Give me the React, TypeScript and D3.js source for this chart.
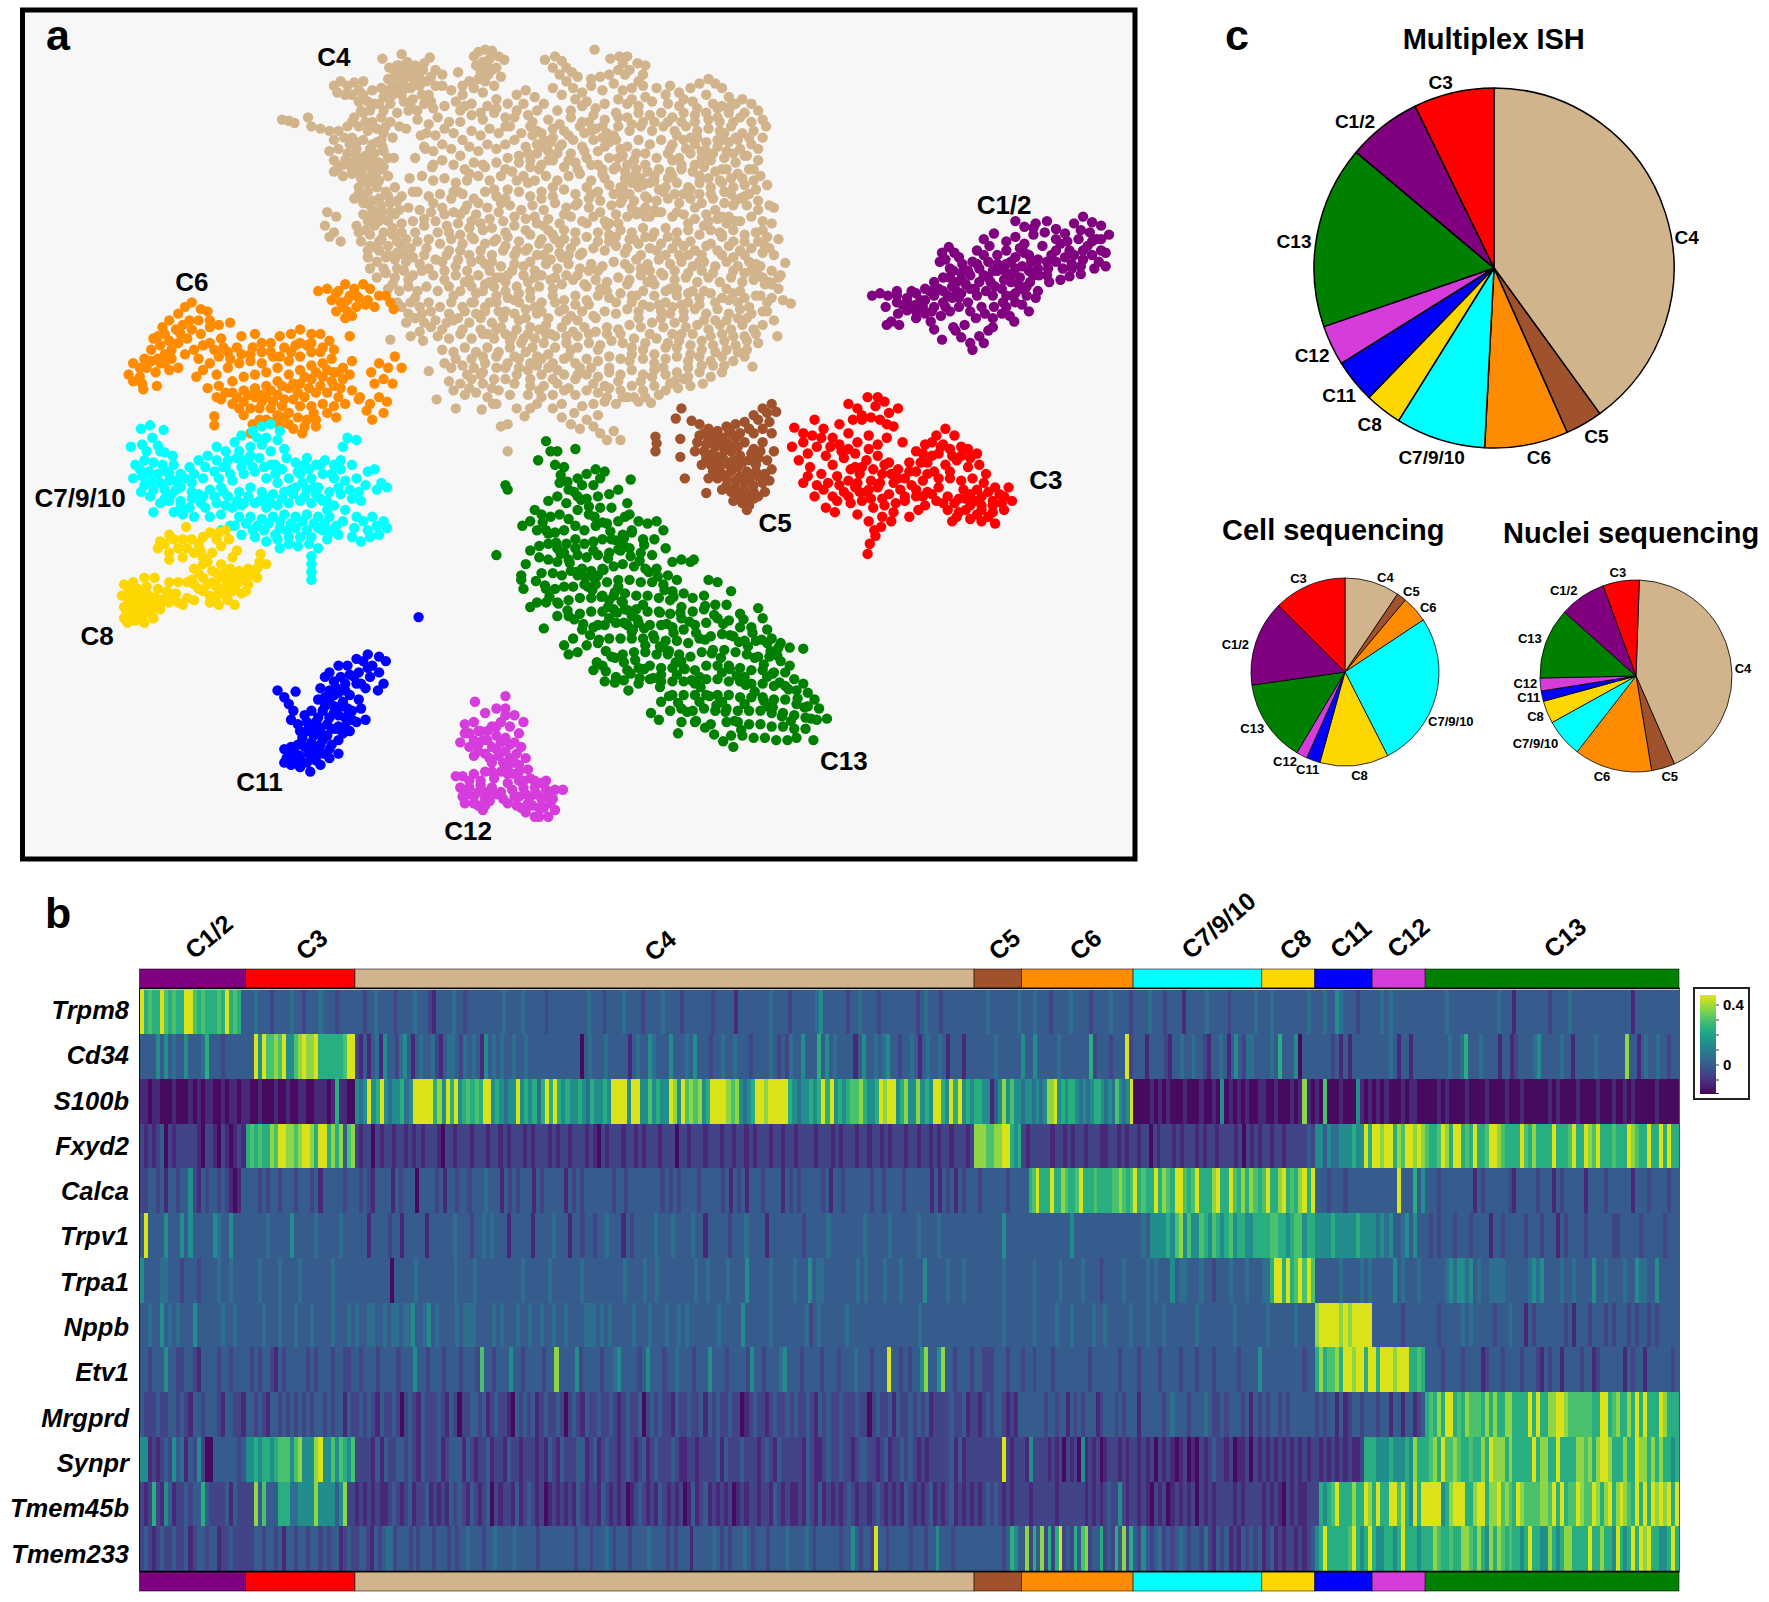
import React from "react";
import * as d3 from "d3";

const FONT = "'Liberation Sans', Arial, sans-serif";

const clusters = ["C1/2","C3","C4","C5","C6","C7/9/10","C8","C11","C12","C13"];
const clusterColors = ["#800080","#ff0000","#d2b48c","#a0522d","#ff8c00","#00ffff","#ffd700","#0000ff","#d63cdc","#008000"];
const cellCounts = [94,97,549,42,99,114,47,51,47,225];

const pieOrder = ["C4","C5","C6","C7/9/10","C8","C11","C12","C13","C1/2","C3"];
const ishShares = [144,12,27,29,12,14,13,59,24,26];
const cellShares = [34,6,16.4,96.6,42.5,8.5,6.8,51.2,53,45];
const nucleiShares = [154.4,14.2,47.2,23.2,13.7,6.3,7.8,42.9,28.3,22];

const genes = ["Trpm8","Cd34","S100b","Fxyd2","Calca","Trpv1","Trpa1","Nppb","Etv1","Mrgprd","Synpr","Tmem45b","Tmem233"];
const exprLevels = [-0.18,-0.12,-0.06,0,0.05,0.14,0.24,0.3,0.38,0.46];

// one string per gene, one space-separated run per cluster; each digit is an exprLevels index
const trpm8 = "96766976766997676667696763 334333233334332333433323333 3323343333233334333213333433233333333343333433333233333333334333233334333323333433332333333323333313333333343333233333345333333233433332333333333234333233333333 333433333334 3334333233334333323333433332 3333433323333133333433333233333343 3343333333343 33433543332333 3343433333333 3333343333333333334333133333333233334333333333333333133333333333";
const cd34 = "33335353433533346333233333 339597787955789889666666799 2131341533245313433421344324343153434334334333333333333303433343333313433543335333435333233433433323333432324335333635343333135334345332334313433431333133 333334333333 5335333334333333362333233392 333133332133433433213343135324433 3343633350333 33332313133333 3333431331333 333333433463334333313312333345333334331333334333333383313433433233";
const s100b = "11011000100010101100101101 100100010010011001110161100 545956954556459999968596956767699565455956564696965655654655659999599557565598597878569999878545699899999654556569695656778655698995685585659965969565 665513585755 4554545889565665454566545475459 0000101010001000100105010101001 1001000101810 10700010005101 0101000101100 0001010000100001000010001000000101000010000100010010100000100000";
const fxyd2 = "21212302122222102210210121 676766879988789986996868378 2122021221221212122210221222122212212122212122212122122212102122212212122212220221222122212212212122212212212222122212122212212212122212212212122122212 888778899656 212222212212122122211221212 212202122212122212122122221202121 2212212222232 55354455565596 9989968799898 7667986996769667998766669768666696667966987966676669876696696966";
const calca = "22332313323352132332321013 333232332333233323133333233 3232133331323330333323133233233343331323233313233333132323333333233233333333232323333233333231323133323333132323333323133233333323323333233333313132313233 323333332333 3367966696687667966676666778767 9676696876997679666896697686876 7966896768969 33323332333333 3333339333635 3332333333331323333332133333233313233333133332333333133323333233";
const trpv1 = "39333353335353333354335333 333334333335333334333334333 3331333323313333313333334333233434333133333133334333133233233433313233333433343333433133333233343333133333333233333433333333433333433333343333433333333 333333353333 333333333333353333333333333333 3343555565785755765765675665566 6677665677566 55556555556555 5454533453533 3232333233323333133233333233323331323333233333322333332333332333";
const trpa1 = "53333443332333233334334333 333433334333343333333433333 3333333330333334333333333433334333333333334333333433333334333333333343333433433333333343343333433335333334333334333534433333333434333343334333335333334333433 333333343333 333433333343333343333233333433 3334343335344333433233343334333 4469969679797 33333343333434 3333353433343 3333345455453433444433333345453333433433335334333343354433533333";
const nppb = "33433534343335333333433433 333343334333433343333433343 4334433434434453345343333434443333434333433433433433433334443434333334333433343343433333334333335333333433333333423433333343333333333333333343333333333333 333333343333 333433333433343333343343333334 3334333433333334333333334333333 3433333343333 89999989899999 3333333233333 3332333334343333323334333132333333323133323332323332323323233333";
const etv1 = "33233353322332133332332333 323233213233333232333233223 32333233332333533233323332333273323335332333323383333523333233453333235333233433323335333233332533233345333233332333233343332333933232335833583323332 332223332333 233233332333333333233333332333 3233332333323332333233333233335 3333333333233 68677869989969 9699989996676 3333233332333312333233332333213233133332331233333313233133333323";
const mrgprd = "32223223323213323332133221 332321332323232323323233132 2323213223202321322232132022332312322103232312322320232132232232123223023232213223223132322322012322123223232232132322322232202322313223232312222322312 212323321213 333333233233132323331233323233 3133333234333233343223233323132 3233232333333 23233131233233 3233133133123 6768699676877768686688666696966889987777776699678668696966698666";
const synpr = "55121232534132520033333323 556566567775785558955757657 2222131322332321322231233313212231221322122212132132223312312322123212312322232112212222313222322212321322222132112322322123322123122323212122222313122 222222292122 215222212120212051212012221212 2121202121012010212322120112021 2121212121212 21212121211266 6555655565866 6786977876676686988868666669688669666688786899866686698868686656";
const tmem45b = "21262153122323363222231322 228373336664455558555535822 1212121123212312231212132321321230212213123212012121213212213212120123212132121201312312121201212212213212112132131212123212212321212132121231212312121 212323212122 221222222122222221212123225212 2121021201212120212122221212222 1212102121122 26567966686698 6966997965969 9999568999668996889787698777788796967798779868968987696969898969";
const tmem233 = "23212322322312332331223222 223323323133233233232331232 23321323442333232333233323233433323343333433333233333333323332333432333233334333323233313333343232333432333233334333343233333323353233293323333323332335333233333 333333323653 382638262692326378233623263826 3253234232343233242132312132323 1231212212123 56966666796569 6556656966656 6687667668876865868767665696655865688666696686659656969896655696";
const heatRows = [trpm8,cd34,s100b,fxyd2,calca,trpv1,trpa1,nppb,etv1,mrgprd,synpr,tmem45b,tmem233];

// t-SNE embedding, flat x,y pairs per cluster
const c1Pts = [773,262,780,260,787,262,795,258,785,272,795,268,804,264,812,260,820,256,828,250,836,246,845,240,853,234,790,285,797,288,786,288,804,275,812,270,820,266,828,262,836,258,844,254,852,248,860,244,868,238,876,232,884,226,892,222,812,282,820,278,828,272,836,268,844,264,852,260,860,256,868,250,876,246,884,240,892,234,900,228,908,224,825,285,834,280,842,276,850,272,858,268,866,262,874,258,882,254,890,248,898,242,906,236,914,232,847,293,855,288,852,299,860,304,868,298,876,293,865,282,873,278,881,272,889,268,897,262,905,256,913,250,921,244,929,238,835,224,841,219,833,232,842,238,850,228,866,222,872,212,881,207,877,218,900,196,908,201,918,198,928,196,936,203,944,207,952,198,960,192,968,197,976,200,983,208,972,212,964,218,956,212,948,222,940,216,932,226,924,218,916,208,908,216,900,210,892,214,968,226,976,222,980,236,970,238,960,230,950,234,942,238,930,250,920,258,910,262,900,268,892,272,903,252,895,280,845,290,880,290,899,285,912,276,828,292,835,301,862,310,872,304,920,230,936,232,958,243,948,245,
800,270,808,258,816,266,824,258,832,256,840,262,848,258,856,252,864,256,872,244,880,262,888,256,896,250,904,246,912,240,920,238,928,232,936,222,944,228,952,226,960,222,968,214,976,212,980,224,912,226,904,220,896,232,888,236,880,240,872,226,862,232,852,242,842,246,830,256,818,272,806,270,796,278,812,276,826,276,838,272,850,264,860,276,870,272,880,282,888,278,900,260,910,254,918,264,906,270,916,244,928,244,940,248,950,238,958,236,966,206,958,204,946,214,936,212,926,206,916,202,974,232,795,262,838,230,846,224,848,250,858,240,866,234,878,250,892,262,900,238,892,242,884,234];

const c3Pts = [752,358,760,362,769,352,776,360,784,356,772,370,780,372,788,366,796,362,764,372,704,379,722,372,730,380,738,388,744,376,752,384,760,392,770,386,778,394,786,388,702,396,712,392,716,402,724,396,732,404,708,408,718,414,728,420,738,412,748,406,758,402,768,408,778,404,788,410,796,416,806,410,812,400,820,394,830,386,838,380,846,386,852,396,842,398,832,402,822,410,812,418,802,424,792,428,782,420,772,426,762,420,752,426,742,422,730,434,738,440,748,436,758,432,768,436,778,432,788,438,798,434,808,430,818,426,828,418,838,412,848,408,858,414,868,412,858,398,866,402,722,440,712,428,740,454,754,446,764,444,774,450,784,448,794,446,760,456,770,462,782,458,790,462,802,444,812,440,822,436,832,432,842,424,852,426,862,424,872,428,882,432,890,440,897,444,880,444,870,440,860,438,850,442,840,440,830,444,820,448,840,452,850,454,860,448,870,452,880,454,890,452,860,460,870,462,882,464,844,462,781,467,776,475,771,482,769,491,775,470,732,450,814,452,806,458,
712,384,720,386,728,388,736,396,744,394,752,398,716,422,724,430,734,428,744,430,754,416,764,414,774,416,784,412,796,424,806,418,816,410,826,404,836,394,844,404,852,404,860,406,842,418,832,424,822,420,812,434,802,440,792,454,782,442,772,442,762,436,752,440,742,444,874,420,866,434,876,436,886,438,894,432,854,434,846,446,836,446,826,438,818,440,876,458,866,456,856,452,848,458,764,368,756,372,778,352,786,376,792,378,800,392,770,398,758,414,746,400,826,392,834,396,818,402,790,420,780,428,770,434,760,428,870,448,880,448,888,446,856,442,864,444];

const c4Pts = [339,52,345,60,356,48,361,55,352,58,368,58,375,62,381,51,372,70,358,64,350,66,364,68,378,72,386,62,392,66,406,64,420,50,424,46,430,44,436,45,442,50,447,53,422,58,428,55,434,52,440,60,426,64,433,66,444,68,483,53,492,50,498,54,502,60,490,60,496,66,507,64,512,68,527,44,541,52,549,50,556,50,552,56,558,62,565,56,572,58,570,66,566,72,548,62,540,66,532,68,524,70,
296,76,302,72,308,76,299,82,306,84,314,73,322,72,330,80,326,90,318,90,332,92,340,86,348,76,356,74,364,78,372,76,380,84,366,88,376,92,384,96,358,90,346,92,340,98,352,100,400,80,410,84,420,78,428,82,418,92,432,94,408,98,394,94,440,88,450,92,458,84,466,80,474,86,482,92,490,78,498,84,508,78,516,82,524,76,534,80,544,74,552,80,560,78,548,88,556,92,536,92,528,96,516,94,506,98,494,98,570,76,582,78,594,76,590,84,602,82,612,78,620,74,628,70,634,74,640,78,626,84,614,90,602,94,592,92,578,90,566,94,646,86,652,92,658,88,666,92,672,98,640,94,632,92,
250,106,256,107,261,109,273,104,276,112,284,114,292,116,300,116,305,122,296,124,308,112,314,104,322,100,330,108,338,104,326,116,318,112,346,108,354,112,340,118,370,106,380,110,388,104,398,108,408,108,418,102,428,106,438,100,448,104,458,98,468,102,476,98,486,106,496,110,506,104,516,108,526,102,536,106,546,100,556,104,566,100,576,102,586,100,596,104,606,100,616,102,626,100,636,104,646,100,656,104,666,108,676,106,679,112,
312,122,322,124,330,128,338,124,300,132,308,136,316,132,324,138,332,136,340,134,292,134,296,142,304,146,312,144,320,146,328,148,336,144,344,140,378,118,386,120,394,114,402,118,410,124,418,116,426,120,434,114,442,118,452,112,462,118,470,112,480,118,490,122,500,116,508,124,518,118,528,114,538,118,548,112,558,116,568,112,578,116,588,112,598,116,608,112,618,116,628,114,638,116,648,112,658,118,668,116,676,122,
376,130,384,134,392,128,400,132,408,138,416,130,424,134,432,128,440,132,448,128,456,124,466,130,476,128,486,134,496,130,506,136,516,130,526,124,536,130,546,124,556,130,566,124,576,128,586,124,596,128,606,124,616,128,626,126,636,130,646,126,656,132,666,128,
384,146,392,142,402,146,412,150,420,144,430,148,440,144,450,140,460,138,470,142,480,146,490,142,500,148,510,144,520,140,530,146,540,140,552,138,562,142,572,136,582,140,592,136,602,140,612,136,622,140,632,136,642,140,652,144,662,138,672,142,
296,152,304,156,312,154,320,158,328,156,336,160,344,156,318,166,326,170,334,166,342,170,350,166,314,176,322,180,330,178,338,182,346,180,322,190,330,192,338,190,346,188,354,186,
374,156,384,160,394,158,404,162,414,160,424,156,434,160,444,156,454,152,464,156,474,160,484,156,494,160,504,156,514,154,524,160,534,154,544,150,554,152,564,150,574,152,584,150,594,152,604,150,614,152,624,148,634,152,644,150,654,154,664,150,674,156,
370,170,380,174,390,172,400,176,410,172,420,176,430,170,440,174,450,168,460,170,470,174,480,170,490,174,500,168,510,172,520,166,530,170,540,164,550,166,560,162,570,164,580,160,590,166,600,162,610,166,620,162,630,166,640,162,650,166,660,164,670,168,680,164,
290,188,298,192,288,200,296,206,302,214,292,210,362,184,372,186,382,188,392,184,402,188,412,186,422,190,432,184,442,188,452,182,462,186,472,182,482,186,492,180,502,184,512,180,522,184,532,178,542,182,552,176,562,178,572,174,582,178,592,176,602,180,612,176,622,180,632,176,642,180,652,178,662,182,672,178,682,182,686,184,
316,200,324,204,332,200,340,206,348,202,356,198,366,196,376,200,386,196,396,200,406,198,416,202,426,198,436,202,446,196,456,200,466,194,476,198,486,194,496,198,506,192,516,196,526,192,536,196,546,190,556,192,566,188,576,192,586,188,596,192,606,190,616,194,626,190,636,194,646,192,656,196,666,192,676,196,684,198,
320,214,328,218,336,214,344,218,352,214,360,212,370,214,380,212,390,216,400,212,410,216,420,212,430,216,440,212,450,210,460,214,470,208,480,212,490,208,500,212,510,206,520,210,530,206,540,208,550,204,560,206,570,202,580,206,590,202,600,206,610,204,620,208,630,204,640,208,650,204,660,208,670,206,680,210,690,212,
326,228,334,232,342,228,350,230,358,226,366,228,376,226,386,230,396,226,406,230,416,226,426,230,436,226,446,222,456,226,466,222,476,226,486,220,496,224,506,220,516,224,526,220,536,222,546,218,556,220,566,216,576,220,586,216,596,220,606,218,616,222,626,218,636,222,646,218,656,222,666,220,676,224,686,226,696,233,
334,246,342,242,350,246,358,240,366,244,374,240,384,244,394,240,404,244,414,240,424,244,434,240,444,236,454,240,464,236,474,240,484,234,494,238,504,234,514,238,524,234,534,236,544,232,554,234,564,230,574,234,584,230,594,234,604,232,614,236,624,232,634,236,644,232,654,236,664,232,674,236,684,240,692,244,
354,258,362,254,370,258,378,254,388,258,398,254,408,258,418,254,428,258,438,254,448,250,458,254,468,250,478,254,488,248,498,252,508,248,518,252,528,248,538,250,548,246,558,248,568,244,578,248,588,244,598,248,608,246,618,250,628,246,638,250,648,246,658,250,668,248,678,252,690,256,701,269,694,266,684,264,
356,272,364,268,372,272,380,268,390,272,400,268,410,272,420,268,430,272,440,268,450,264,460,268,470,264,480,268,490,262,500,266,510,262,520,266,530,262,540,264,550,260,560,262,570,258,580,262,590,258,600,262,610,260,620,264,630,260,640,264,650,260,660,264,670,262,680,268,
360,286,368,282,376,286,386,284,396,286,406,282,416,286,426,282,436,286,446,282,456,278,466,282,476,278,486,282,496,276,506,280,516,276,526,280,536,276,546,278,556,274,566,276,576,272,586,276,596,272,606,276,616,274,626,278,636,274,646,278,656,274,666,278,676,276,686,284,689,298,
346,301,364,298,375,302,388,298,398,300,408,296,418,300,428,296,438,300,448,296,458,292,468,296,478,292,488,296,498,290,508,294,518,290,528,294,538,290,548,292,558,288,568,290,578,286,588,290,598,286,608,290,618,288,628,292,638,288,648,292,658,288,668,292,676,288,
402,312,412,308,422,312,432,308,442,312,452,308,462,304,472,308,482,304,492,308,502,304,512,308,522,304,532,306,542,302,552,304,562,300,572,304,582,300,592,304,602,302,612,306,622,302,632,306,642,302,652,306,662,302,672,304,
380,329,400,326,410,324,420,326,430,322,440,326,450,322,460,318,470,322,480,318,490,322,500,318,510,322,520,318,530,320,540,316,550,318,560,314,570,318,580,314,590,318,600,316,610,320,620,316,630,320,640,316,650,320,660,316,667,325,
398,338,408,340,418,336,428,340,438,336,448,336,458,332,470,336,480,332,490,336,500,332,510,336,520,332,530,334,540,330,550,332,560,328,570,332,580,328,590,332,600,330,610,334,620,330,630,334,640,330,
412,350,422,348,432,352,442,346,452,350,468,350,478,346,490,350,500,346,510,350,520,346,530,348,540,344,550,346,560,342,570,346,580,342,590,346,601,344,612,342,623,340,
387,354,404,362,427,363,437,358,465,369,458,362,470,362,476,358,444,378,450,376,490,362,498,358,509,366,516,360,526,358,536,356,546,358,556,352,566,356,577,357,
498,370,506,376,514,380,520,372,526,378,532,384,538,390,544,382,550,390,530,368,450,400,
352,68,360,78,368,70,344,80,362,98,348,84,386,76,432,58,436,62,430,72,438,76,502,72,510,88,520,90,554,66,560,88,572,86,606,88,618,96,
312,150,320,152,328,160,334,152,340,148,322,176,330,186,336,196,326,196,344,196,352,178,
470,148,476,136,482,124,490,114,498,128,504,142,512,150,518,134,524,146,530,134,540,126,548,140,556,146,564,136,572,146,580,156,588,170,596,142,566,166,574,176,558,172,550,180,564,190,572,184,580,186,
612,122,622,134,630,142,640,150,620,156,630,172,642,170,650,182,640,192,624,200,610,198,600,188,
448,176,456,192,466,204,474,192,482,200,492,212,500,204,510,214,498,228,488,230,478,216,468,220,458,222,448,206,438,214,428,204,418,196,408,208,398,222,388,206,378,220,368,206,
430,252,440,246,450,244,460,260,470,258,480,244,490,256,500,274,510,270,480,276,470,290,460,284,448,276,
560,268,570,270,580,252,590,268,600,256,610,268,620,270,566,282,576,296,586,282,596,296,606,282,
630,298,640,296,650,298,660,298,644,310,654,312,634,312,622,310,612,314,600,308,
456,316,466,312,476,324,486,314,494,328,504,316,514,326,470,342,482,342,494,340,504,344,414,332,426,332,436,344,
380,238,394,248,404,236,416,248,430,234,448,218,470,232,398,278,410,292,426,292,440,292,452,302,
356,206,364,220,352,224,336,222,328,238,340,238,348,252,362,248,368,264,372,294,382,276,392,310,
520,254,530,240,538,258,546,268,556,252,528,282,538,296,550,296,560,308,570,310,580,322,590,308,
640,210,650,214,660,226,672,214,682,220,650,240,660,242,672,244,682,250,644,256,654,268,664,272,674,262,662,282,
520,198,530,214,540,214,548,198,558,212,568,226,578,210,590,226,600,214,612,214,622,226,632,242,622,240,610,242,598,240,
342,112,348,122,339,130,360,114,349,140,363,158,356,174,366,170,373,120,377,132,383,148,368,140,
354,58,362,62,370,64,376,56,382,68,358,70,366,76,374,84,382,90,352,78,344,70,338,78,356,84,364,94,370,98,
318,80,312,84,322,84,336,92,328,98,320,98,312,108,324,108,334,114,316,126,310,128,328,132,334,126,322,142,330,142,338,150,316,138,306,142,300,148,
326,162,318,172,336,176,344,174,328,182,338,186,350,190,318,206,328,208,338,212,348,208,356,218,344,226,334,220,326,222,
424,70,416,72,410,76,392,76,404,90,412,94,426,100,440,96,448,112,456,104,464,92,472,108,
472,120,480,130,488,126,494,136,486,142,478,150,468,136,460,144,476,116,504,120,514,112,524,116,534,122,544,120,550,132,
546,148,554,158,562,156,568,158,576,162,584,168,592,158,598,172,582,188,572,192,560,184,552,166,544,172,536,158,
608,132,618,122,626,134,636,124,644,134,652,122,660,138,668,150,658,158,648,158,638,160,628,158,616,146,604,146,594,132,
406,170,414,182,424,180,434,194,444,180,394,190,384,180,376,194,398,206,408,190,418,210,
408,222,418,232,426,222,436,232,444,246,434,250,422,260,412,250,402,262,392,232,418,268,430,276,440,262,
486,204,496,216,504,226,514,226,522,240,512,244,502,244,492,246,482,226,474,246,464,244,456,234,
564,262,574,250,584,270,594,278,604,296,614,296,624,284,634,284,644,284,654,282,662,310,670,296,680,276,
454,298,464,300,474,300,484,296,492,298,502,298,506,310,476,316,486,326,460,326,448,326,440,316,428,316,418,318,
512,298,522,296,530,310,540,326,548,338,558,320,568,338,578,334,588,326,598,338,610,326,622,324,632,324,642,324,
538,200,546,210,554,224,562,212,572,210,582,222,592,210,602,226,610,226,620,232,630,216,640,226,650,228,660,214,
402,284,412,276,422,278,432,296,442,276,392,292,382,290,374,278,362,278,352,268,344,256,352,238,360,232,372,234,
522,176,532,188,540,198,550,172,534,150,524,172,510,182,500,190,490,166,480,176,468,162,458,160,448,150,438,168,428,146,416,154,402,170,
600,120,596,156,606,172,616,184,628,196,638,206,648,172,656,176,664,172,672,186,676,204,670,234,678,218,
690,246,684,252,676,246,666,240,656,258,646,266,634,268,624,258,614,258,604,270,594,256,586,242,576,240,568,238,558,238,
532,256,522,270,512,284,502,284,492,268,484,288,474,272,466,274,456,266,448,258,444,290,434,268,
512,332,524,326,536,342,526,340,552,352,562,352,572,352,584,350,594,340,538,352,606,336,
402,346,416,344,428,330,404,318,394,322,468,328,480,352,456,340,440,358,
636,96,648,94,660,100,650,108,638,108,628,106,616,108,604,108,592,108,580,108,570,108,560,110,548,104,534,112,522,108,
642,118,654,124,664,122,672,132,650,136,640,124,668,160,660,174,652,196,644,198,634,186,620,172,612,168];

const c5Pts = [599,371,604,362,581,387,582,393,581,400,603,389,603,405,607,424,626,437,662,452,613,373,620,376,628,380,636,382,644,378,652,376,660,374,668,368,676,362,684,358,688,365,682,374,676,380,668,384,684,384,676,392,668,398,660,392,652,388,644,392,636,392,628,390,620,386,616,400,624,400,632,402,640,404,648,400,656,404,664,408,672,406,680,408,686,400,622,412,630,412,638,414,646,412,654,414,662,418,670,418,678,420,684,416,628,424,636,424,644,424,652,426,660,428,668,430,676,428,682,426,640,434,648,436,656,438,664,440,672,440,678,436,650,444,658,446,664,448,668,442,618,392,646,382,670,412,654,396,
624,384,632,386,640,388,648,384,656,384,664,380,672,372,680,366,626,394,634,396,642,398,650,396,626,406,634,408,642,408,650,408,658,410,666,402,674,400,632,418,640,420,648,418,656,422,664,424,672,422,644,430,652,432,660,434,668,436,654,440,662,444];

const c6Pts = [282,258,290,256,298,260,306,252,314,256,322,252,328,256,336,262,342,262,294,266,302,268,310,262,318,264,326,266,308,276,316,272,324,270,332,272,298,276,306,282,346,268,349,274,
114,332,118,322,124,326,118,338,126,340,128,318,134,310,140,318,146,322,138,330,127,345,139,342,150,328,158,326,136,300,146,296,142,306,152,310,158,304,166,300,150,284,158,278,164,272,170,268,178,274,144,290,156,292,168,284,176,284,186,290,194,288,184,276,196,300,172,310,176,318,164,314,186,304,204,286,180,328,174,334,
186,322,194,316,202,312,210,308,214,298,226,296,224,308,232,312,240,304,248,298,258,296,266,292,276,296,284,296,272,306,262,306,252,308,242,316,232,322,222,320,212,322,202,326,192,332,206,338,216,334,226,332,236,330,246,326,256,320,266,316,276,312,286,308,294,318,296,330,286,322,276,324,266,328,256,332,246,338,236,342,226,344,216,346,206,348,194,342,184,344,196,354,206,358,216,356,226,352,236,352,246,350,256,344,266,340,276,336,286,334,296,342,304,336,310,332,312,320,300,352,290,348,280,348,270,352,260,354,250,360,240,362,230,362,216,368,224,376,236,372,246,368,256,366,266,360,276,360,286,358,296,360,272,372,280,378,270,378,256,376,
190,369,190,377,310,298,312,346,318,354,329,330,336,322,344,326,350,316,356,326,340,336,332,340,348,340,319,352,328,358,336,352,343,356,340,366,330,372,325,364,246,372,260,380,222,384,
300,258,308,266,316,262,304,272,312,280,124,334,130,326,142,322,134,320,152,318,146,314,140,298,150,302,160,296,170,292,178,296,186,284,162,288,180,306,190,310,198,308,204,318,214,314,222,314,232,304,240,312,248,316,258,312,266,304,276,304,284,312,292,302,300,330,290,328,280,330,270,334,260,340,250,342,240,346,232,350,220,350,210,352,200,348,192,352,212,362,222,362,232,356,242,356,252,354,264,348,274,344,284,342,294,338,302,344,306,358,298,370,290,366,278,366,264,370,252,370,240,374,230,372,268,384,280,372,248,378,304,326,296,310];

const c7Pts = [125,380,133,377,145,381,135,388,140,395,146,401,153,404,116,396,126,394,120,412,128,408,136,410,144,412,154,412,160,420,168,414,176,408,184,404,192,396,200,400,208,392,214,386,224,382,232,378,240,376,248,382,222,396,232,394,240,400,252,398,
118,424,126,422,134,426,142,428,150,426,160,432,170,428,180,424,190,418,200,414,210,406,220,408,230,406,240,412,250,416,262,410,272,406,280,412,288,408,296,412,304,396,308,388,316,390,302,408,312,412,
125,436,133,440,142,446,150,444,160,444,168,450,176,438,186,434,196,432,206,426,216,420,226,418,236,424,246,428,256,424,266,420,276,424,286,420,296,424,306,426,316,424,326,418,332,416,338,428,343,432,334,434,324,430,
136,454,146,442,154,454,162,456,172,458,182,450,192,446,202,440,212,436,222,432,232,436,242,438,252,436,262,432,272,434,282,432,292,436,302,438,312,442,320,444,186,458,196,456,206,450,216,446,226,446,236,450,246,448,256,446,266,444,276,446,286,444,296,448,306,452,316,458,
196,470,204,466,212,458,222,458,232,460,242,458,252,456,262,458,272,456,282,458,292,458,304,462,314,468,322,462,330,458,
214,474,224,470,234,470,244,474,254,470,262,468,272,470,282,468,292,472,300,474,
248,486,256,482,264,484,274,482,282,486,290,478,294,470,
312,476,320,480,328,476,336,474,343,468,340,462,276,493,276,500,276,507,276,514,
170,442,180,440,202,408,194,424,214,448,244,412,270,412,284,442,248,462,236,442,216,408,290,452,198,436,156,434,
130,400,124,416,132,418,140,420,148,418,156,426,128,430,136,434,146,434,152,438,142,400,150,420,164,424,172,420,182,414,192,408,204,420,214,414,224,414,234,414,244,420,254,406,264,418,274,416,284,412,294,420,302,416,160,450,170,436,178,446,190,440,200,448,210,444,220,440,230,444,240,446,250,442,260,438,270,440,280,438,290,444,300,432,310,434,318,436,208,466,218,464,228,466,238,464,248,468,258,464,268,462,278,464,288,464,298,466,226,476,236,480,246,478,256,476,266,476,276,476,286,470,198,414,212,400,222,404,236,388,228,388,246,390,258,434,268,428,278,432,326,470,334,466];

const c8Pts = [165,467,150,474,142,480,140,486,150,490,158,486,162,478,170,478,176,482,180,476,186,472,194,472,200,470,203,478,196,484,188,490,180,494,172,490,162,494,150,496,210,488,206,494,231,491,236,500,228,504,222,510,230,498,
172,504,180,500,188,506,196,500,204,504,212,506,220,504,170,514,180,512,188,516,196,512,204,514,212,516,220,518,228,512,196,524,206,524,214,526,180,524,172,532,166,530,186,534,194,536,202,532,208,536,186,528,
110,518,118,516,128,512,137,512,150,516,158,516,166,516,172,518,
108,528,116,526,124,526,132,528,140,522,148,524,156,526,162,536,
110,538,118,536,126,536,134,534,142,532,150,534,158,534,
110,548,118,544,126,546,134,544,142,540,113,552,128,552,136,548,
146,482,154,478,166,486,178,488,192,478,184,498,176,508,192,508,200,508,208,510,216,510,224,508,200,520,208,520,218,524,192,520,184,518,176,522,192,528,200,528,114,522,122,522,130,520,138,530,146,530,154,530,114,532,122,532,130,532,118,540,126,542,134,540,142,536,120,550,112,544];

const c11Pts = [371,547,336,582,326,580,342,586,330,590,322,586,316,584,308,590,336,596,328,600,318,596,310,598,300,590,292,596,340,606,324,610,316,606,306,606,296,604,288,600,335,612,246,612,252,618,256,624,260,630,258,638,262,613,318,620,310,616,300,614,292,612,284,610,282,620,292,622,302,626,312,630,320,628,324,638,316,640,306,636,296,632,286,630,276,630,310,648,300,644,290,642,280,640,272,640,264,642,300,656,290,652,280,650,272,648,264,660,292,664,284,660,276,658,268,654,252,664,258,668,266,670,274,668,282,666,258,678,266,680,275,684,284,678,292,672,300,668,252,676,262,674,272,676,278,672,298,646,
296,616,304,622,296,626,288,618,308,628,300,634,292,636,282,636,274,646,284,648,294,646,304,650,286,656,278,652,270,662,278,662,286,668,294,660,262,668,254,672,268,676,280,674,258,662,306,612,314,600,302,600,320,606,326,592,298,610,288,626,270,634,312,638,306,644,266,648,282,644,276,668];

const c12Pts = [421,622,448,617,412,642,420,640,430,632,440,628,448,628,456,634,464,640,416,650,426,648,436,644,444,640,452,644,460,650,408,658,416,662,424,660,432,656,440,652,448,654,456,658,420,670,430,668,440,664,448,666,458,668,436,676,446,676,456,676,466,672,450,686,460,684,468,682,410,688,404,688,420,686,430,684,438,690,450,694,460,692,470,690,480,694,408,698,416,698,426,696,436,698,444,702,454,700,464,698,474,698,484,700,492,700,499,700,410,706,420,706,430,708,440,704,460,706,470,706,480,708,490,708,412,712,424,714,434,710,450,712,458,714,468,712,478,716,488,712,428,718,466,720,474,724,486,724,492,718,
424,648,432,648,440,644,448,634,452,660,444,658,436,662,428,656,420,656,412,650,424,666,434,672,442,670,452,672,462,662,450,680,460,678,444,684,416,692,426,692,432,702,424,702,414,704,420,712,430,714,446,708,456,706,466,704,476,704,486,706,464,692,474,692,484,692,472,714,482,716,462,716,478,724,455,686,436,684];

const c13Pts = [484,391,488,400,477,408,494,400,510,398,536,418,528,416,520,420,512,424,500,414,496,428,504,434,516,430,526,430,532,424,559,425,448,430,450,434,486,444,494,440,502,446,512,440,520,442,530,440,540,438,548,434,556,446,480,456,488,458,496,456,504,460,512,452,522,456,532,450,542,450,554,458,463,466,470,462,476,470,484,470,492,472,500,470,510,466,518,470,528,466,538,464,548,462,558,456,566,462,574,464,582,462,588,470,478,484,486,482,494,486,502,482,510,478,518,482,526,480,534,478,542,478,552,474,560,472,570,478,580,478,590,486,440,492,470,488,462,510,466,500,478,494,486,496,494,498,504,496,512,492,520,494,530,492,540,490,550,488,558,486,568,490,578,492,596,498,604,496,612,498,615,496,
462,514,464,522,480,508,490,508,498,510,506,506,516,504,524,506,534,504,544,502,552,500,562,502,572,504,582,504,592,510,600,514,484,522,492,522,500,520,508,520,518,518,528,518,538,516,548,514,558,514,568,516,578,516,588,518,596,524,606,526,
470,538,476,534,484,534,494,534,504,532,514,530,524,530,534,528,544,528,554,526,564,528,574,528,584,530,594,532,604,538,614,530,624,528,628,514,636,516,648,524,
482,557,494,546,504,546,514,544,524,542,534,542,544,540,554,540,564,540,574,542,584,542,594,544,604,548,614,542,624,540,634,536,644,536,656,544,672,539,676,548,
500,572,508,566,516,558,526,556,536,554,546,552,556,554,566,552,576,554,586,554,596,556,606,558,616,554,626,552,636,548,646,550,656,556,666,556,680,558,684,566,692,570,
504,580,512,578,520,572,530,570,540,566,550,566,560,566,570,566,580,566,590,568,600,568,610,570,620,566,630,564,640,562,650,564,660,568,670,568,680,570,690,574,700,574,712,575,
526,594,534,590,542,582,552,580,562,578,572,578,582,580,592,580,602,580,612,582,622,578,632,576,642,576,652,578,662,580,672,582,682,582,692,586,700,590,
536,604,546,600,556,594,566,592,576,590,586,592,596,592,606,592,616,594,626,590,636,590,646,590,656,592,666,594,676,594,686,596,696,596,704,602,712,606,
557,612,566,606,576,602,586,604,596,604,606,604,616,606,626,602,636,602,646,604,656,604,666,606,676,606,686,608,696,608,706,612,716,614,722,620,
577,632,586,622,596,616,606,616,616,616,626,616,636,616,646,616,656,618,666,618,676,618,686,620,696,620,706,624,716,626,726,628,733,637,
584,638,594,630,604,628,614,630,624,628,634,630,644,628,654,630,664,630,674,630,684,632,694,632,704,634,714,636,724,638,
601,650,604,640,616,640,630,642,644,640,654,640,664,642,674,642,684,644,694,644,704,646,714,646,721,656,
648,652,650,662,658,652,668,654,678,654,688,656,698,656,706,654,
500,490,510,486,526,488,512,510,530,510,548,520,540,532,552,534,560,546,570,536,530,554,540,548,560,560,572,572,588,574,604,586,586,598,600,598,620,600,640,596,660,600,680,600,620,622,640,622,660,624,680,626,
492,412,497,421,503,427,509,436,515,443,522,449,527,458,534,463,541,471,546,479,553,484,559,493,
474,452,481,463,486,473,493,481,497,491,505,499,511,507,519,512,525,523,533,529,539,538,547,543,553,552,561,558,
475,515,483,519,487,529,495,535,503,541,509,549,517,553,523,563,531,567,537,577,545,583,553,587,559,597,567,601,
560,470,553,477,548,487,539,495,535,505,527,513,521,520,
571,483,567,497,575,507,583,511,589,523,597,529,603,543,611,551,617,561,625,567,631,579,639,583,647,593,653,599,661,607,669,613,677,621,685,627,693,635,701,639,
545,525,551,533,557,541,565,549,571,557,579,563,585,573,593,577,599,587,607,593,613,603,621,609,629,617,635,625,643,631,651,639,657,647,
625,537,633,545,641,553,647,563,655,569,663,573,669,583,677,589,685,597,691,605,699,611,707,619,713,627,719,637,
659,549,667,561,675,567,683,577,689,581,
563,585,571,593,579,601,585,609,593,617,601,623,609,631,617,639,625,645,633,651,641,657,
529,587,537,595,545,605,553,603,
585,543,591,553,597,561];

const clusterPoints = [c1Pts,c3Pts,c4Pts,c5Pts,c6Pts,c7Pts,c8Pts,c11Pts,c12Pts,c13Pts];

// picture-space helper: source px of the shrunken reference to page px
const px = d3.scaleLinear().domain([0,1568]).range([0,1769]);
const py = d3.scaleLinear().domain([0,1420]).range([0,1602]);

const scatterLabels: [string,number,number][] = [["C4",296,50],["C1/2",890,181],["C6",170,250],["C7/9/10",71,441],["C8",86,563],["C11",230,693],["C12",415,736],["C13",748,674],["C5",687,463],["C3",927,425]];
const topLabels: [string,number,number][] = [["C1/2",185,830],["C3",276,837],["C4",585,838],["C5",890,837],["C6",962,837],["C7/9/10",1080,820],["C8",1148,837],["C11",1197,832],["C12",1248,831],["C13",1387,831]];

const ishLabels: [string,number,number][] = [["C4",1495,210],["C5",1415,387],["C6",1364,405],["C7/9/10",1269,405],["C8",1214,376],["C11",1187,350],["C12",1163,315],["C13",1147,214],["C1/2",1201,107],["C3",1277,73]];
const cellLabels: [string,number,number][] = [["C4",1228,512],["C5",1251,524],["C6",1266,538],["C7/9/10",1286,639],["C8",1205,687],["C11",1159,682],["C12",1139,675],["C13",1110,646],["C1/2",1095,571],["C3",1151,513]];
const nucleiLabels: [string,number,number][] = [["C4",1545,592],["C5",1480,688],["C6",1420,688],["C7/9/10",1361,659],["C8",1361,635],["C11",1355,618],["C12",1352,606],["C13",1356,566],["C1/2",1386,523],["C3",1434,507]];

function Pie({shares,cx,cy,r,start,sw,labels,fs}:{shares:number[];cx:number;cy:number;r:number;start:number;sw:number;labels:[string,number,number][];fs:number}){
  const rad = (d:number)=>d*Math.PI/180;
  const arcs = d3.pie<number>().sort(null).startAngle(rad(start)).endAngle(rad(start+360))(shares);
  const arc = d3.arc<d3.PieArcDatum<number>>().innerRadius(0).outerRadius(r);
  return <g>
    <g transform={`translate(${cx},${cy})`}>
      {arcs.map((a,i)=><path key={i} d={arc(a)!} fill={clusterColors[clusters.indexOf(pieOrder[i])]} stroke="#000" strokeWidth={sw} strokeLinejoin="round"/>)}
    </g>
    {labels.map(([t,x,y])=><text key={t} x={px(x)} y={py(y)} dy="0.36em" textAnchor="middle" fontSize={fs} fontWeight="bold" fontFamily={FONT}>{t}</text>)}
  </g>;
}

export default function App(){
  const hmX = d3.scaleLinear().domain([0,d3.sum(cellCounts)]).range([139.5,1679]);
  const edges = [0,...d3.cumsum(cellCounts)];
  const hmY = d3.scaleBand<string>().domain(genes).range([989.5,1571]);
  const labelY = d3.scalePoint<string>().domain(genes).range([py(895),py(1377)]);
  const colorT = d3.scaleLinear().domain([-0.2,0.5]).range([0,1]).clamp(true);
  const color = (v:number)=>d3.interpolateViridis(colorT(v));
  const legY = d3.scaleLinear().domain([0,0.4]).range([1065,1005]);
  const legVals = d3.range(-0.187,0.467,0.005);
  const legTicks = [-0.1,0,0.1,0.2,0.3,0.4,-0.19];

  return <svg width={1769} height={1602} style={{position:"absolute",left:0,top:0,background:"#fff"}} fontFamily={FONT}>
    {/* panel a */}
    <rect x={22.5} y={10} width={1112.5} height={849} fill="#f7f7f7" stroke="#000" strokeWidth={5}/>
    {clusterPoints.map((pts,ci)=>{
      const pairs = d3.range(0,pts.length-1,2).map(i=>[pts[i],pts[i+1]]);
      return <g key={ci} fill={clusterColors[ci]}>
        {pairs.map((p,i)=><circle key={i} cx={px(p[0])} cy={py(p[1])} r={5.2}/>)}
      </g>;
    })}
    {scatterLabels.map(([t,x,y])=><text key={t} x={px(x)} y={py(y)} dy="0.36em" textAnchor="middle" fontSize={26} fontWeight="bold">{t}</text>)}
    <text x={46} y={50} fontSize={43} fontWeight="bold">a</text>
    <text x={45} y={928} fontSize={43} fontWeight="bold">b</text>
    <text x={1225} y={50} fontSize={43} fontWeight="bold">c</text>

    {/* panel c */}
    <text x={px(1324)} y={49} textAnchor="middle" fontSize={29} fontWeight="bold">Multiplex ISH</text>
    <text x={1222} y={540} fontSize={29} fontWeight="bold">Cell sequencing</text>
    <text x={1503} y={543} fontSize={29} fontWeight="bold">Nuclei sequencing</text>
    <Pie shares={ishShares} cx={1494} cy={268} r={180} start={0} sw={1.5} labels={ishLabels} fs={19}/>
    <Pie shares={cellShares} cx={1345} cy={672} r={94} start={0} sw={0.8} labels={cellLabels} fs={13}/>
    <Pie shares={nucleiShares} cx={1636} cy={676} r={96} start={2} sw={0.8} labels={nucleiLabels} fs={13}/>

    {/* panel b */}
    {topLabels.map(([t,x,y])=><text key={t} transform={`translate(${px(x)},${py(y)}) rotate(-40)`} dy="0.36em" textAnchor="middle" fontSize={25} fontWeight="bold">{t}</text>)}
    {clusters.map((c,i)=><g key={c}>
      <rect x={hmX(edges[i])} y={969} width={hmX(edges[i+1])-hmX(edges[i])} height={19} fill={clusterColors[i]} stroke="#000" strokeOpacity={0.55} strokeWidth={1}/>
      <rect x={hmX(edges[i])} y={1572} width={hmX(edges[i+1])-hmX(edges[i])} height={19} fill={clusterColors[i]} stroke="#000" strokeOpacity={0.55} strokeWidth={1}/>
    </g>)}
    <g shapeRendering="crispEdges">
      {heatRows.map((row,ri)=>row.split(" ").map((seg,si)=>{
        const cx = d3.scaleBand<number>().domain(d3.range(seg.length)).range([hmX(edges[si]),hmX(edges[si+1])]);
        return seg.split("").map((ch,k)=><rect key={`${ri}-${si}-${k}`} x={cx(k)} y={hmY(genes[ri])} width={cx.bandwidth()+0.6} height={hmY.bandwidth()+0.5} fill={color(exprLevels[+ch])}/>);
      }))}
    </g>
    <line x1={139} x2={1680} y1={988.5} y2={988.5} stroke="#000" strokeWidth={1.5}/>
    <line x1={139} x2={1680} y1={1571.5} y2={1571.5} stroke="#000" strokeWidth={1.5}/>
    <line x1={139.5} x2={139.5} y1={988} y2={1572} stroke="#111" strokeWidth={1}/>
    <line x1={1679.5} x2={1679.5} y1={988} y2={1572} stroke="#555" strokeWidth={1}/>
    {genes.map(g=><text key={g} x={129} y={labelY(g)} dy="0.36em" textAnchor="end" fontSize={25.5} fontWeight="bold" fontStyle="italic">{g}</text>)}

    {/* colour legend */}
    <rect x={1694} y={988} width={55} height={111} fill="#fff" stroke="#222" strokeWidth={2}/>
    <g shapeRendering="crispEdges">
      {legVals.map(v=><rect key={v} x={1700} y={legY(v+0.005)} width={16} height={legY(v)-legY(v+0.005)+0.5} fill={color(v)}/>)}
    </g>
    {legTicks.map(v=><line key={v} x1={1716} x2={1719} y1={legY(v)} y2={legY(v)} stroke="#333" strokeWidth={1}/>)}
    <text x={1723} y={legY(0.4)} dy="0.36em" fontSize={15} fontWeight="bold">0.4</text>
    <text x={1723} y={legY(0)} dy="0.36em" fontSize={15} fontWeight="bold">0</text>
  </svg>;
}
